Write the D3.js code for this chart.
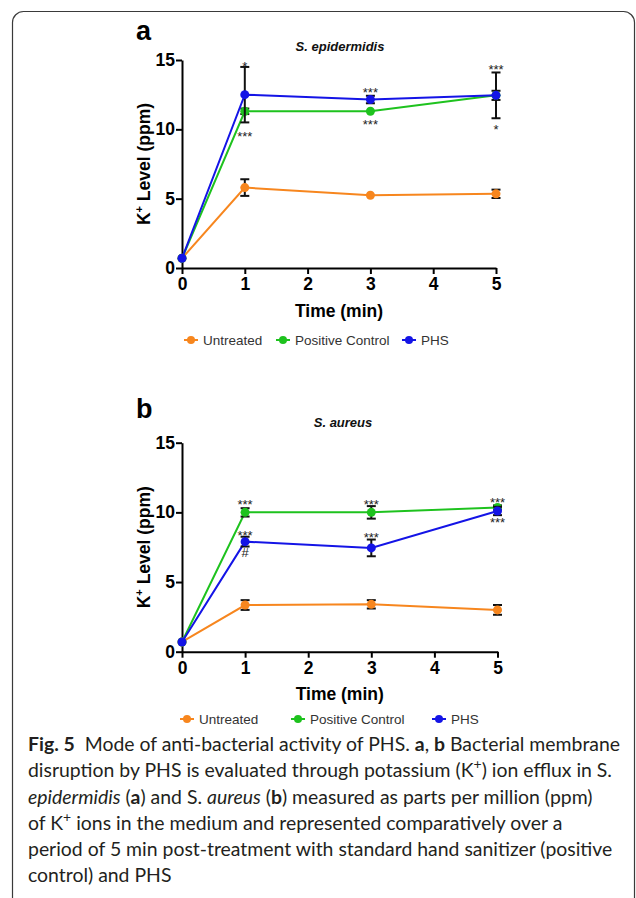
<!DOCTYPE html>
<html>
<head>
<meta charset="utf-8">
<script src="https://cdn.jsdelivr.net/npm/d3@7/dist/d3.min.js"></script>
<style>
body { margin: 0; background: #fff; }
svg { display: block; }
.axis path, .axis line { stroke: #000; stroke-width: 2; }
.axis text { font: bold 17.5px "Liberation Sans", Arial, sans-serif; fill: #000; }
.axis-label { font: bold 17.5px "Liberation Sans", Arial, sans-serif; fill: #000; }
.panel-letter { font: bold 27px "Liberation Sans", Arial, sans-serif; fill: #000; }
.panel-title { font: italic bold 13px "Liberation Sans", Arial, sans-serif; fill: #111; }
.legend text { font: 13.5px "Liberation Sans", Arial, sans-serif; fill: #333; }
.star { font: 13px "Liberation Sans", Arial, sans-serif; fill: #222; }
.caption { font-family: Lato, "Open Sans", sans-serif; fill: #231f20; }
</style>
</head>
<body>
<svg width="636" height="898"></svg>
<script>
// values (K+ in ppm, time in min)
const times = [0, 1, 3, 5]
const yTicks = [0, 5, 10, 15]
const xTicks = [0, 1, 2, 3, 4, 5]
const seriesNames = ['Untreated', 'Positive Control', 'PHS']
const seriesColors = ['#f7861e', '#1ec21e', '#1414e6']

// a: S. epidermidis
const epiUntreated = [0.7, 5.8, 5.25, 5.35]
const epiUntreatedErr = [0, 0.6, 0, 0.3]
const epiPositive = [0.7, 11.3, 11.3, 12.45]
const epiPositiveErr = [0, 0.2, 0, 0.33]
const epiPhs = [0.7, 12.5, 12.15, 12.45]
const epiPhsErr = [0, 2.0, 0.27, 1.65]
const epiStars = [[1, 14.8, '*'], [1, 9.75, '***'], [3, 12.9, '***'], [3, 10.6, '***'], [5, 14.55, '***'], [5, 10.25, '*']]

// b: S. aureus
const aurUntreated = [0.7, 3.35, 3.4, 3.0]
const aurUntreatedErr = [0, 0.35, 0.3, 0.35]
const aurPositive = [0.7, 10.0, 10.0, 10.35]
const aurPositiveErr = [0, 0.3, 0.45, 0.15]
const aurPhs = [0.7, 7.9, 7.45, 10.1]
const aurPhsErr = [0, 0.35, 0.6, 0.3]
const aurStars = [[1, 10.82, '***'], [1, 8.6, '***'], [1, 7.1, '#'], [3, 10.82, '***'], [3, 8.45, '***'], [5, 10.96, '***'], [5, 9.5, '***']]

const captionLines = [
    [['Fig. 5', 'b'], ['  Mode of anti-bacterial activity of PHS. ', ''], ['a', 'b'], [', ', ''], ['b', 'b'], [' Bacterial membrane', '']]
  , [['disruption by PHS is evaluated through potassium (K', ''], ['+', 'sup'], [') ion efflux in S.', '']]
  , [['epidermidis', 'i'], [' (', ''], ['a', 'b'], [') and S. ', ''], ['aureus', 'i'], [' (', ''], ['b', 'b'], [') measured as parts per million (ppm)', '']]
  , [['of K', ''], ['+', 'sup'], [' ions in the medium and represented comparatively over a', '']]
  , [['period of 5 min post-treatment with standard hand sanitizer (positive', '']]
  , [['control) and PHS', '']]
  ]

const zip = (vals, errs) => times.map((t, i) => ({ t, v: vals[i], e: errs[i] }))

const panels = [
    { letter: 'a', title: 'S. epidermidis'
    , left: 182, right: 496, top: 60, bottom: 268
    , letterX: 136, letterY: 40, titleX: 340, titleY: 51
    , yLabelX: 150, xLabelY: 317, legendY: 340, legendX: [191, 283, 409]
    , series: [zip(epiUntreated, epiUntreatedErr), zip(epiPositive, epiPositiveErr), zip(epiPhs, epiPhsErr)]
    , stars: epiStars }
  , { letter: 'b', title: 'S. aureus'
    , left: 182, right: 497.5, top: 442.7, bottom: 651.7
    , letterX: 136, letterY: 418, titleX: 343, titleY: 427
    , yLabelX: 150, xLabelY: 700, legendY: 719, legendX: [187, 298, 439]
    , series: [zip(aurUntreated, aurUntreatedErr), zip(aurPositive, aurPositiveErr), zip(aurPhs, aurPhsErr)]
    , stars: aurStars }
  ]

const svg = d3.select('svg')

svg.append('rect')
    .attr('x', 12.5).attr('y', 11.5)
    .attr('width', 622).attr('height', 900)
    .attr('rx', 11)
    .attr('fill', 'none')
    .attr('stroke', '#3a3a3a')
    .attr('stroke-width', 1.2)

const drawPanel = p => {
    const g = svg.append('g')
    const x = d3.scaleLinear().domain([0, 5]).range([p.left, p.right])
    const y = d3.scaleLinear().domain([0, 15]).range([p.bottom, p.top])

    g.append('g')
        .attr('class', 'axis')
        .attr('transform', `translate(0,${p.bottom})`)
        .call(d3.axisBottom(x).tickValues(xTicks).tickSize(6).tickSizeOuter(0).tickPadding(4).tickFormat(d3.format('d')))
    g.append('g')
        .attr('class', 'axis')
        .attr('transform', `translate(${p.left},0)`)
        .call(d3.axisLeft(y).tickValues(yTicks).tickSize(6).tickSizeOuter(0).tickPadding(1).tickFormat(d3.format('d')))

    g.append('text')
        .attr('class', 'panel-letter')
        .attr('x', p.letterX).attr('y', p.letterY)
        .text(p.letter)
    g.append('text')
        .attr('class', 'panel-title')
        .attr('x', p.titleX).attr('y', p.titleY)
        .attr('text-anchor', 'middle')
        .text(p.title)

    const yl = g.append('text')
        .attr('class', 'axis-label')
        .attr('text-anchor', 'middle')
        .attr('transform', `translate(${p.yLabelX},${(p.top + p.bottom) / 2}) rotate(-90)`)
    yl.append('tspan').text('K')
    yl.append('tspan').attr('dy', -7).style('font-size', '11px').text('+')
    yl.append('tspan').attr('dy', 7).text(' Level (ppm)')

    g.append('text')
        .attr('class', 'axis-label')
        .attr('text-anchor', 'middle')
        .attr('x', (p.left + p.right) / 2).attr('y', p.xLabelY)
        .text('Time (min)')

    const line = d3.line().x(d => x(d.t)).y(d => y(d.v))

    p.series.forEach((s, i) => {
        const sg = g.append('g')
        sg.append('path')
            .attr('d', line(s))
            .attr('fill', 'none')
            .attr('stroke', seriesColors[i])
            .attr('stroke-width', 2)
        const eb = sg.selectAll('g.err')
            .data(s.filter(d => d.e > 0))
            .join('g')
            .attr('class', 'err')
            .attr('stroke', '#111')
            .attr('stroke-width', 2)
        eb.append('line')
            .attr('x1', d => x(d.t)).attr('x2', d => x(d.t))
            .attr('y1', d => y(d.v - d.e)).attr('y2', d => y(d.v + d.e))
        eb.append('line')
            .attr('x1', d => x(d.t) - 4.5).attr('x2', d => x(d.t) + 4.5)
            .attr('y1', d => y(d.v + d.e)).attr('y2', d => y(d.v + d.e))
        eb.append('line')
            .attr('x1', d => x(d.t) - 4.5).attr('x2', d => x(d.t) + 4.5)
            .attr('y1', d => y(d.v - d.e)).attr('y2', d => y(d.v - d.e))
        sg.selectAll('circle')
            .data(s)
            .join('circle')
            .attr('cx', d => x(d.t))
            .attr('cy', d => y(d.v))
            .attr('r', 4.5)
            .attr('fill', seriesColors[i])
    })

    g.selectAll('text.star')
        .data(p.stars)
        .join('text')
        .attr('class', 'star')
        .attr('text-anchor', 'middle')
        .attr('x', d => x(d[0]))
        .attr('y', d => y(d[1]))
        .attr('dy', d => d[2] === '#' ? '0.35em' : '0.62em')
        .text(d => d[2])

    const lg = g.append('g').attr('class', 'legend')
    seriesNames.forEach((name, i) => {
        const cx = p.legendX[i]
        lg.append('line')
            .attr('x1', cx - 7).attr('x2', cx + 7)
            .attr('y1', p.legendY).attr('y2', p.legendY)
            .attr('stroke', seriesColors[i]).attr('stroke-width', 2)
        lg.append('circle')
            .attr('cx', cx).attr('cy', p.legendY).attr('r', 4)
            .attr('fill', seriesColors[i])
        lg.append('text')
            .attr('x', cx + 12).attr('y', p.legendY + 4.5)
            .text(name)
    })
}

panels.forEach(drawPanel)

// caption, fitted so the first line spans the same width as in the figure
const capX = 28
const capBaselines = [751, 777, 803.5, 830, 856, 882]
const drawCaption = fs => {
    svg.selectAll('text.caption').remove()
    captionLines.forEach((segs, li) => {
        const t = svg.append('text')
            .attr('class', 'caption')
            .attr('x', capX).attr('y', capBaselines[li])
            .style('font-size', fs + 'px')
            .style('white-space', 'pre')
        let shifted = false
        segs.forEach(([txt, kind]) => {
            const ts = t.append('tspan').text(txt)
            if (kind === 'b') ts.style('font-weight', 'bold')
            if (kind === 'i') ts.style('font-style', 'italic')
            if (kind === 'sup') {
                ts.style('font-size', (fs * 0.72) + 'px').attr('dy', -fs * 0.42)
                shifted = true
            } else if (shifted) {
                ts.attr('dy', fs * 0.42)
                shifted = false
            }
        })
    })
}
let capSize = 18
for (let k = 0; k < 3; k++) {
    drawCaption(capSize)
    const line1 = svg.select('text.caption').node()
    const box = line1.getBBox()
    capSize = Math.min(19.5, capSize * 592 / box.width)
}
drawCaption(capSize)
</script>
</body>
</html>
